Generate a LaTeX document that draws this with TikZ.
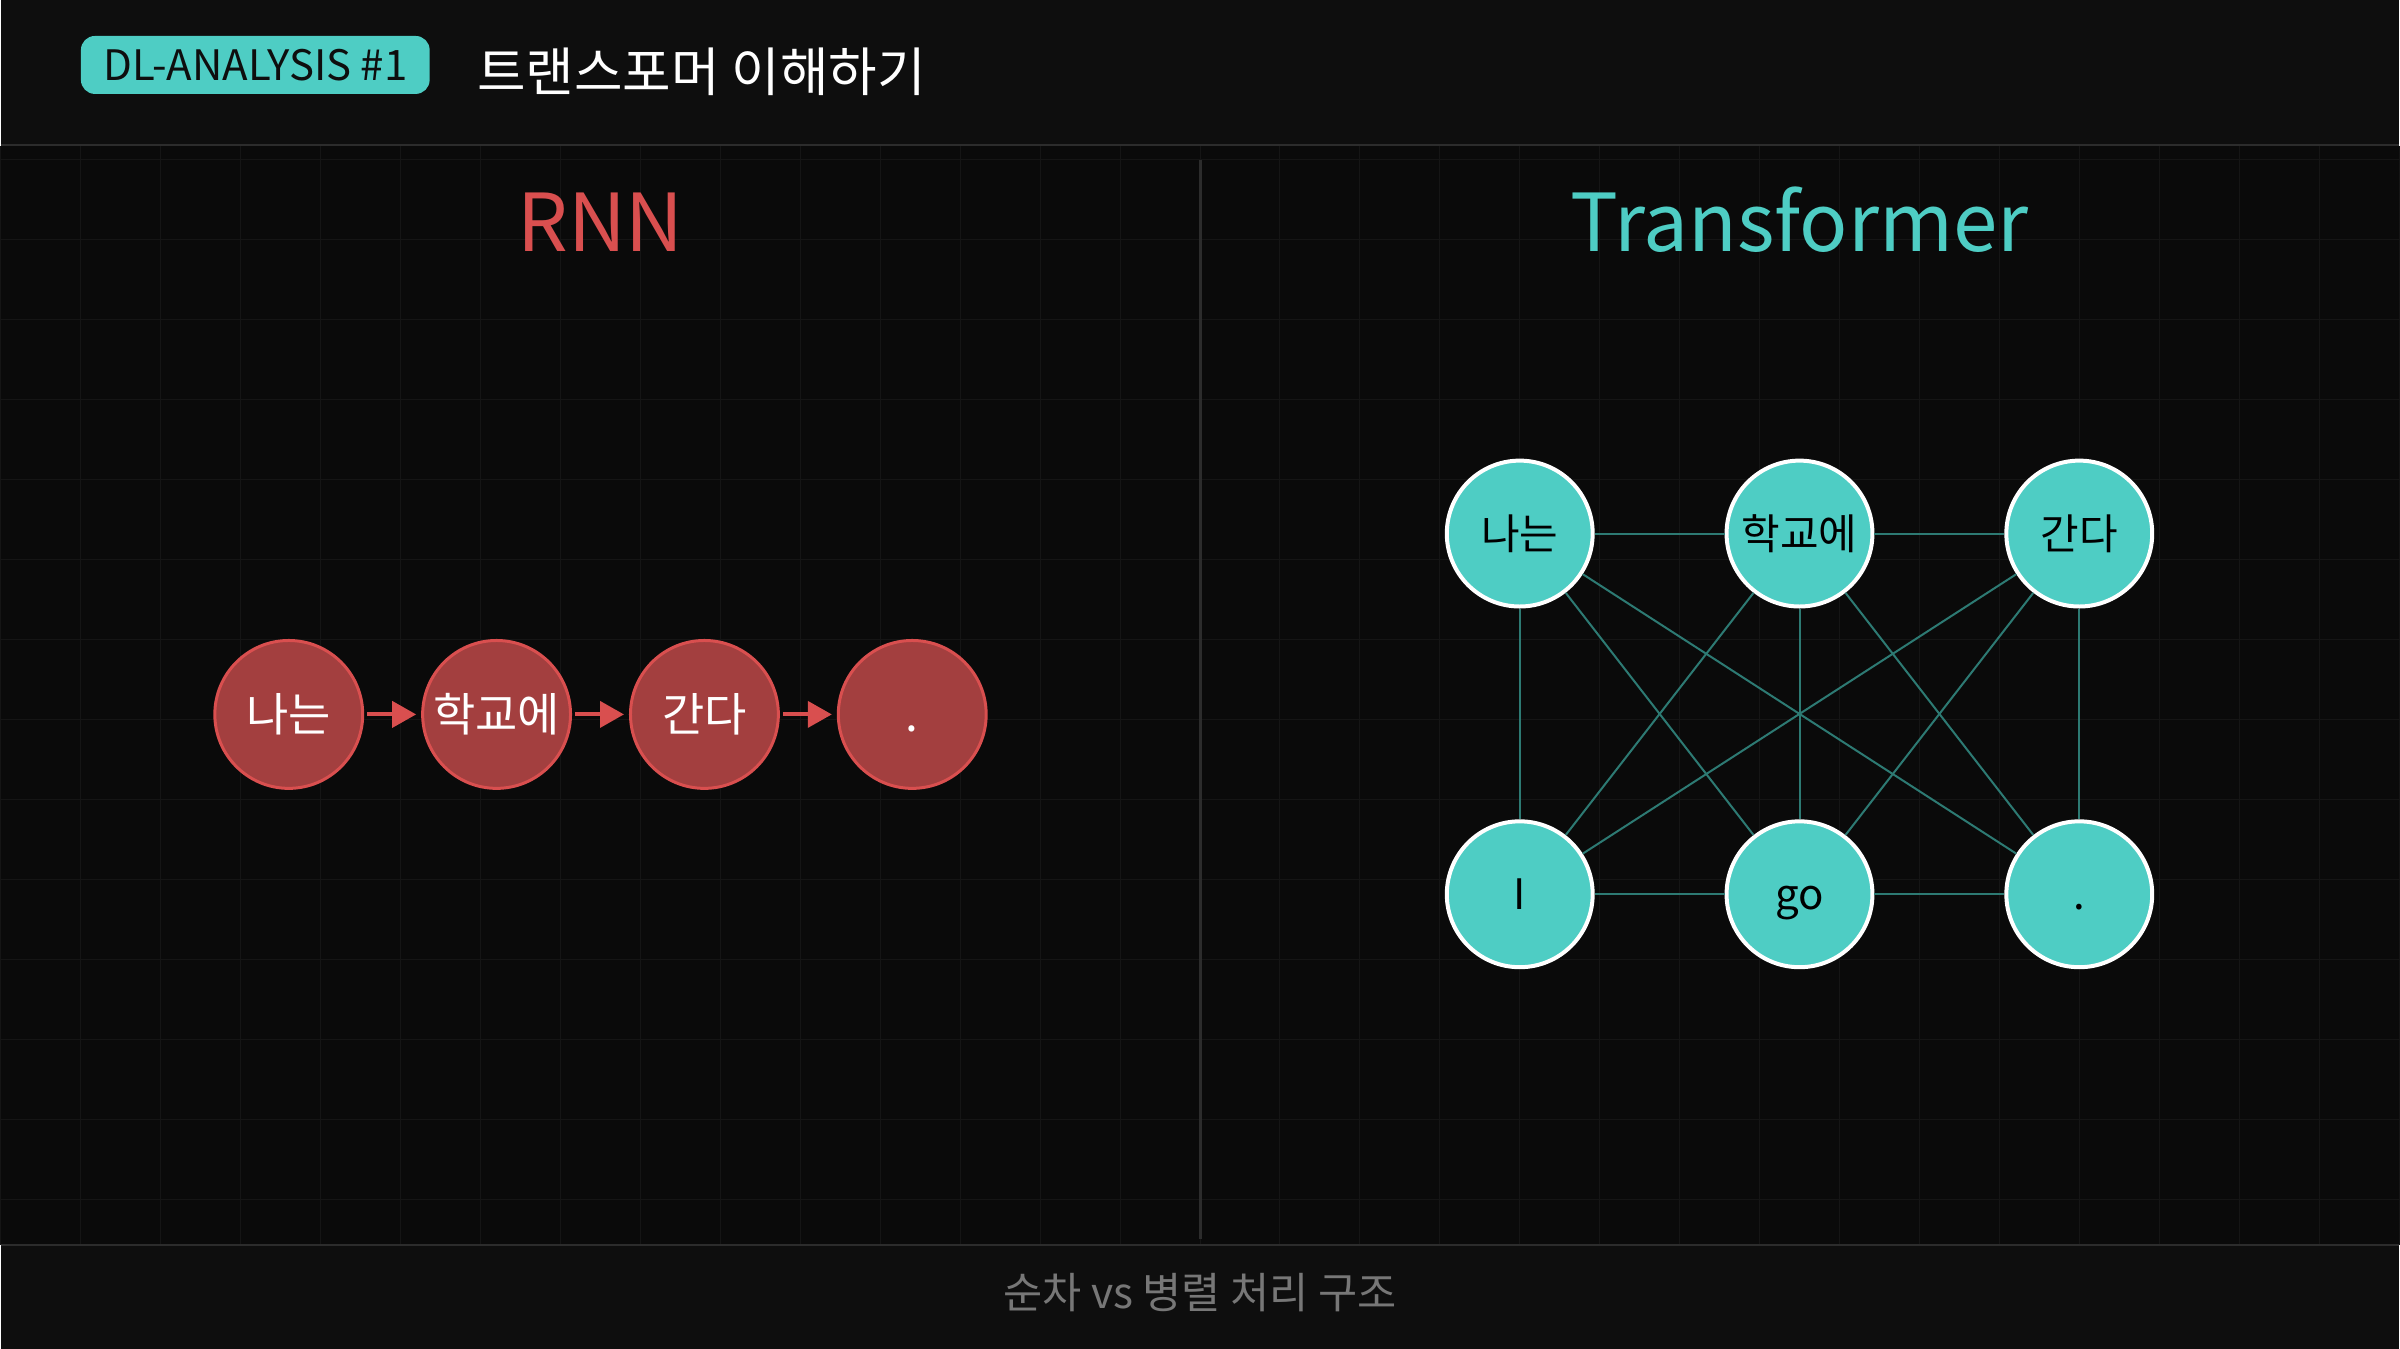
\documentclass[tikz,border=0pt]{standalone}
\usepackage{fontspec}
\setmainfont{Noto Sans CJK KR}
\usetikzlibrary{arrows.meta}

\definecolor{bgbar}{HTML}{0E0E0E}
\definecolor{bgmain}{HTML}{0A0A0A}
\definecolor{gridline}{HTML}{151515}
\definecolor{rulegray}{HTML}{2C2C2C}
\definecolor{rnnred}{HTML}{D94F4F}
\definecolor{rnnfill}{HTML}{A33F3F}
\definecolor{tfteal}{HTML}{4ECDC4}
\definecolor{tfedge}{HTML}{2D7A73}
\definecolor{capgray}{HTML}{777777}

\newcommand{\pxfont}[1]{\fontsize{#1}{#1}\selectfont}

\tikzset{
  badge/.style={fill=tfteal,rounded corners=7pt,minimum width=174.5pt,
    minimum height=29pt,inner sep=0pt,text=bgbar,font=\pxfont{21pt}},
  headline/.style={anchor=base,inner sep=0pt,font=\pxfont{40pt}},
  rnnarrow/.style={draw=rnnred,line width=2pt,shorten <=1.5pt,shorten >=2.5pt,
    -{Triangle[length=12pt,width=13pt]}}
}

\begin{document}
\begin{tikzpicture}[x=0.5pt,y=-0.5pt]

  % frame
  \fill[bgbar] (0,0) rectangle (2400,1350);
  \fill[bgmain] (0,146) rectangle (2400,1246);
  \draw[gridline,line width=0.5pt,step=40pt] (0,1246) grid (2400,146);
  \draw[rulegray,line width=1pt] (0,145) -- (2400,145);
  \draw[rulegray,line width=1pt] (0,1246) -- (2400,1246);
  \draw[rulegray,line width=1.5pt] (1200,160) -- (1200,1240);

  % header
  \node[badge] (tag) at (254.5,65) {DL-ANALYSIS \#1};
  \node[anchor=west,inner sep=0pt,text=white,font=\pxfont{26.4pt}] (title) at (476,72) {트랜스포머 이해하기};

  \node[headline,text=rnnred] (rnnhead) at (600,252) {RNN};
  \node[headline,text=tfteal] (tfhead) at (1800,252) {Transformer};

  % rnn chain
  \begin{scope}[every node/.style={circle,draw=rnnred,fill=rnnfill,line width=1.5pt,
      minimum size=74pt,inner sep=0pt,text height=19.8pt,text depth=2.8pt,
      text=white,font=\pxfont{23pt}}]
    \node (rnn1) at (288,715) {나는};
    \node (rnn2) at (496,715) {학교에};
    \node (rnn3) at (704,715) {간다};
    \node (rnn4) at (912,715) {.};
  \end{scope}

  \draw[rnnarrow] (rnn1) -- (rnn2);
  \draw[rnnarrow] (rnn2) -- (rnn3);
  \draw[rnnarrow] (rnn3) -- (rnn4);

  % transformer graph
  \begin{scope}[every node/.style={circle,draw=white,fill=tfteal,line width=2pt,
      minimum size=73pt,inner sep=0pt,text height=18pt,text depth=2.5pt,
      text=black,font=\pxfont{21pt}}]
    \node (tf1) at (1520,534) {나는};
    \node (tf2) at (1800,534) {학교에};
    \node (tf3) at (2080,534) {간다};
    \node (tf4) at (1520,895) {I};
    \node (tf5) at (1800,895) {go};
    \node (tf6) at (2080,895) {.};
  \end{scope}

  \begin{scope}[every edge/.style={draw=tfedge,line width=1pt}]
    \path (tf1) edge (tf2);
    \path (tf2) edge (tf3);
    \path (tf4) edge (tf5);
    \path (tf5) edge (tf6);
    \path (tf1) edge (tf4);
    \path (tf2) edge (tf5);
    \path (tf3) edge (tf6);
    \path (tf1) edge (tf5);
    \path (tf1) edge (tf6);
    \path (tf2) edge (tf4);
    \path (tf2) edge (tf6);
    \path (tf3) edge (tf4);
    \path (tf3) edge (tf5);
  \end{scope}

  % caption
  \node[text=capgray,font=\pxfont{21.3pt}] (caption) at (1200,1294) {순차 vs 병렬 처리 구조};

\end{tikzpicture}
\end{document}
